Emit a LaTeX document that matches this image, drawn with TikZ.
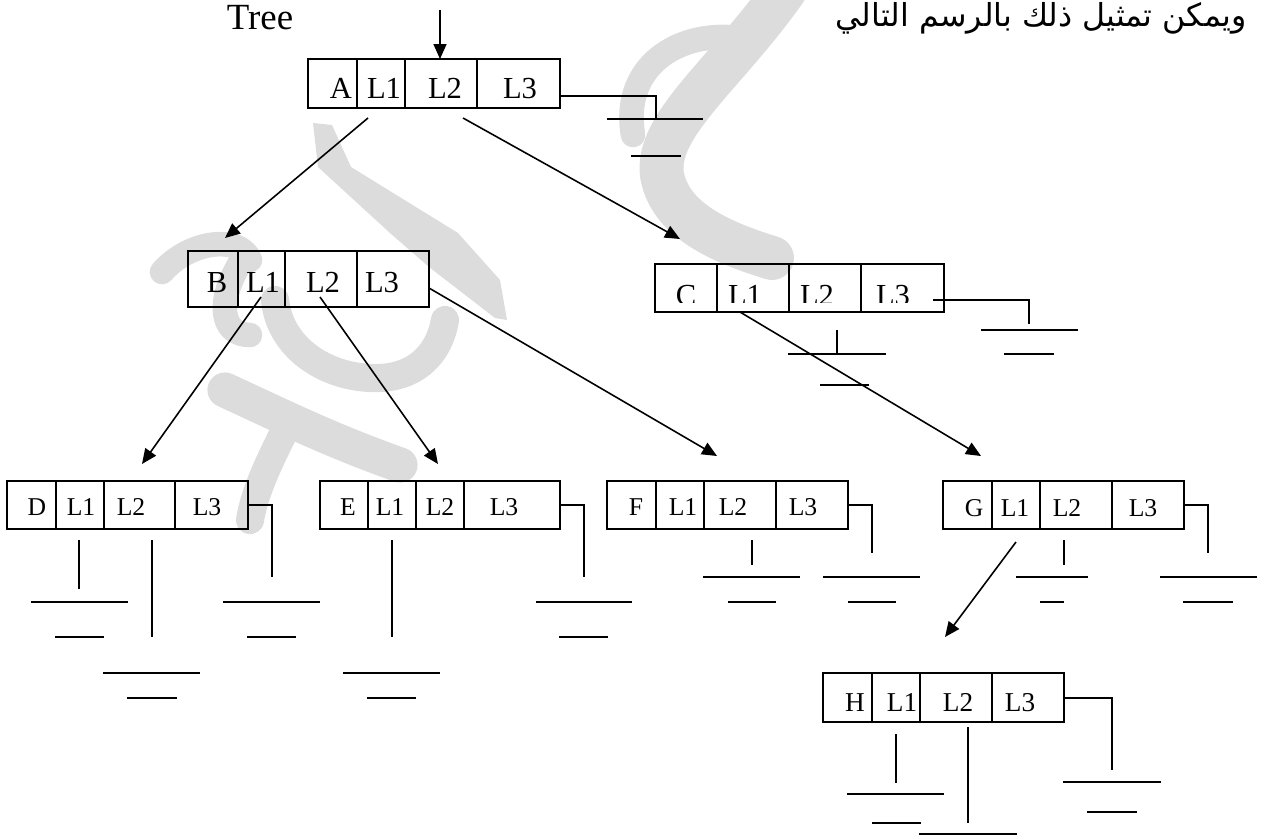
\documentclass[tikz,border=0pt]{standalone}
\usepackage{fontspec}
\setmainfont{Liberation Serif}
\newfontfamily\arabicfont[Script=Arabic]{DejaVu Sans}
\TeXXeTstate=1
\usetikzlibrary{arrows.meta}
\definecolor{trInk}{HTML}{000000}
\definecolor{trMark}{HTML}{DCDCDC}
\tikzset{
  tr diagram/.style={x=0.02cm, y=-0.02cm, text=trInk},
  tr line/.style={draw=trInk, line width=0.9pt},
  tr arrow/.style={tr line, -{Triangle[length=3mm,width=2.6mm]}},
  tr text/.style={anchor=base, inner sep=0pt},
  tr mark/.style={draw=trMark, line cap=round, line join=round}
}
\begin{document}
\begin{tikzpicture}[tr diagram]
\useasboundingbox (0,0) rectangle (1261,836);
\draw[tr mark,line width=25pt] (785,-10) .. controls (725,75) and (655,125) .. (662,175) .. controls (670,220) and (720,242) .. (772,258);
\draw[tr mark,line width=14pt] (728,37) .. controls (672,35) and (622,70) .. (633,135);
\fill[trMark] (313,123) -- (332,125) -- (351,167) -- (458,233) -- (500,280) -- (507,320) -- (495,318) -- (429,267) -- (390,233) -- (318,167) -- cycle;
\draw[tr mark,line width=14pt] (162,272) .. controls (190,240) and (240,235) .. (250,260);
\draw[tr mark,line width=14pt] (245,255) .. controls (215,300) and (220,335) .. (250,335);
\draw[tr mark,line width=16pt] (275,300) .. controls (280,350) and (330,380) .. (380,378) .. controls (420,376) and (440,350) .. (445,320);
\draw[tr mark,line width=20pt] (225,390) .. controls (290,420) and (330,440) .. (400,465);
\draw[tr mark,line width=16pt] (290,420) .. controls (270,460) and (255,490) .. (250,520);
\node[tr text, font=\fontsize{21}{24}\selectfont] (title) at (260,29) {Tree};
\node[anchor=base east, inner sep=0pt] (caption) at (1247,26)
  {\arabicfont\fontsize{18}{21}\selectfont\beginR ويمكن تمثيل ذلك بالرسم التالي\endR};
\foreach \rec/\xa/\xb/\xc/\xd/\xe/\ytop/\ybot in {A/308/357/405/477/560/59/108,B/188/238/285/357/429/251/307,
  C/655/717/789/861/944/264/312,D/7/56/104/175/248/481/529,E/320/368/416/464/560/481/529,
  F/607/656/704/776/848/481/529,G/943/992/1040/1112/1184/481/529,H/823/872/920/992/1064/673/722}{
  \draw[tr line] (\xa,\ytop) rectangle (\xe,\ybot);
  \foreach \xx in {\xb,\xc,\xd}
    \draw[tr line] (\xx,\ytop) -- (\xx,\ybot);
}
\foreach \rec/\base/\xk/\xa/\xb/\xc/\fs in {A/98/341/384/445/520/17.4,B/292/217/263/323/382/17.4,
  D/515/37/81/131/207/14.6,E/515/348/390/440/504/14.6,F/515/636/683/733/803/14.6,
  G/516/974/1015/1067/1143/14.6,H/711/855/902/958/1020/15.5}{
  \node[tr text, font=\fontsize{\fs}{\fs}\selectfont] (\rec-k) at (\xk,\base) {\rec};
  \node[tr text, font=\fontsize{\fs}{\fs}\selectfont] (\rec-1) at (\xa,\base) {L1};
  \node[tr text, font=\fontsize{\fs}{\fs}\selectfont] (\rec-2) at (\xb,\base) {L2};
  \node[tr text, font=\fontsize{\fs}{\fs}\selectfont] (\rec-3) at (\xc,\base) {L3};
}
\begin{scope}
\clip (655,264) rectangle (944,302);
\foreach \name/\x/\txt in {k/686/C,1/745/L1,2/817/L2,3/893/L3}
  \node[tr text, font=\fontsize{17.4}{17.4}\selectfont] (C-\name) at (\x,305) {\txt};
\end{scope}
\foreach \xa/\ya/\xb/\yb in {560/96/656/119,933/300/1029/324,248/505/272/577,560/505/584/577,
  848/505/872/553,1184/505/1208/553,1064/698/1112/770}
  \draw[tr line] (\xa,\ya) -| (\xb,\yb);
\foreach \x/\ya/\yb in {837/330/354,79/540/589,152/540/637,392/540/637,752/540/565,
  1064/540/565,896/734/783,968/727/823}
  \draw[tr line] (\x,\ya) -- (\x,\yb);
\foreach \xa/\xb/\y/\xc/\xd/\yy in {607/703/119/631/681/156,788/886/354/820/869/385,
  981/1078/330/1004/1054/354,31/128/602/55/104/637,103/200/673/127/177/698,
  223/320/602/247/296/637,343/440/673/367/416/698,536/632/602/559/608/637,
  703/800/577/728/776/602,823/920/577/848/896/602,1016/1088/577/1040/1064/602,
  1160/1257/577/1183/1233/602,847/944/794/872/921/823,1063/1161/782/1087/1137/812}{
  \draw[tr line] (\xa,\y) -- (\xb,\y);
  \draw[tr line] (\xc,\yy) -- (\xd,\yy);
}
\draw[tr line] (919,834) -- (1017,834);
\coordinate (root) at (440,10);
\coordinate (A-in) at (440,59);
\coordinate (A-out1) at (368,118);
\coordinate (A-out2) at (463,118);
\coordinate (B-in) at (225,238);
\coordinate (B-out1) at (261,297);
\coordinate (B-out2) at (320,297);
\coordinate (B-out3) at (429,288);
\coordinate (C-in) at (680,239);
\coordinate (C-out1) at (740,312);
\coordinate (D-in) at (142,464);
\coordinate (E-in) at (438,464);
\coordinate (F-in) at (717,456);
\coordinate (G-in) at (981,456);
\coordinate (G-out1) at (1016,542);
\coordinate (H-in) at (945,637);
\foreach \from/\to in {root/A-in,A-out1/B-in,A-out2/C-in,B-out1/D-in,B-out2/E-in,
  B-out3/F-in,C-out1/G-in,G-out1/H-in}
  \draw[tr arrow] (\from) -- (\to);
\end{tikzpicture}
\end{document}
